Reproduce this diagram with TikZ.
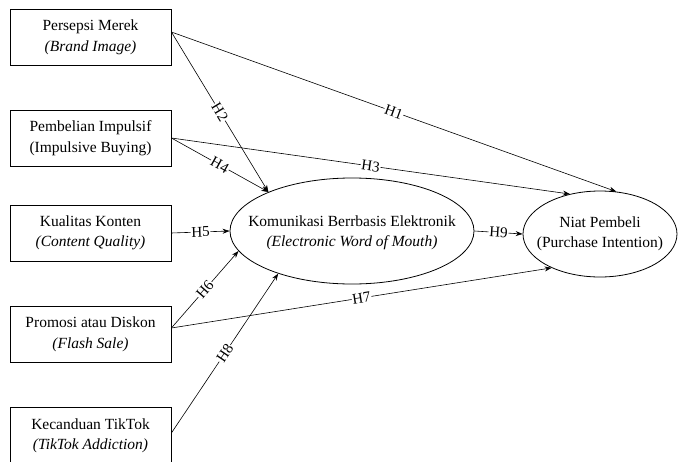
\documentclass[tikz,border=0pt]{standalone}
\usepackage{fontspec}
\setmainfont{Liberation Serif}
\usetikzlibrary{shapes.geometric,arrows.meta}
\begin{document}
\begin{tikzpicture}[x=1pt,y=-1pt,
  box/.style={draw, line width=0.8pt, minimum width=161pt, minimum height=56pt, inner sep=0pt, align=center, font=\fontsize{15.5}{20.5}\selectfont},
  ell/.style={draw, ellipse, line width=0.8pt, inner sep=0pt},
  etxt/.style={inner sep=0pt, align=center, font=\fontsize{15.5}{20.5}\selectfont},
  conn/.style={line width=0.6pt, -{Stealth[length=7pt,width=5pt]}},
  hl/.style={sloped, fill=white, inner sep=0.8pt, pos=0.5, font=\fontsize{15}{15}\selectfont}]
\useasboundingbox (0,0) rectangle (678,461);
\node[box] (b1) at (90.5,37.5) {Persepsi Merek\\\textit{(Brand Image)}};
\node[box] (b2) at (90.5,138) {Pembelian Impulsif\\(Impulsive Buying)};
\node[box] (b3) at (90.5,233) {Kualitas Konten\\\textit{(Content Quality)}};
\node[box] (b4) at (90.5,334.5) {Promosi atau Diskon\\\textit{(Flash Sale)}};
\node[box, minimum height=58pt] (b5) at (90.5,436) {Kecanduan TikTok\\\textit{(TikTok Addiction)}};
\node[ell, minimum width=244pt, minimum height=106pt] (e1) at (352,231) {};
\node[etxt] (t1) at ([yshift=-2pt]e1.center) {Komunikasi Berrbasis Elektronik\\\textit{(Electronic Word of Mouth)}};
\node[ell, minimum width=154pt, minimum height=86pt] (e2) at (600,234) {};
\node[etxt] (t2) at (e2.center) {Niat Pembeli\\(Purchase Intention)};
\coordinate (s1) at ([yshift=5.5pt]b1.east);
\coordinate (s4) at ([yshift=6.5pt]b4.east);
\coordinate (s5) at ([yshift=3pt]b5.east);
\draw[conn] (s1) -- (e2.69) node[hl] {H1};
\draw[conn] (s1) -- (e1.155) node[hl] {H2};
\draw[conn] (b2.east) -- (e2.127) node[hl] {H3};
\draw[conn] (b2.east) -- (e1.155) node[hl] {H4};
\draw[conn] (b3.east) -- (e1.west) node[hl] {H5};
\draw[conn] (s4) -- (e1.190) node[hl] {H6};
\draw[conn] (s4) -- (e2.215) node[hl] {H7};
\draw[conn] (s5) -- (e1.210) node[hl] {H8};
\draw[conn] (e1.east) -- (e2.west) node[hl] {H9};
\end{tikzpicture}
\end{document}
